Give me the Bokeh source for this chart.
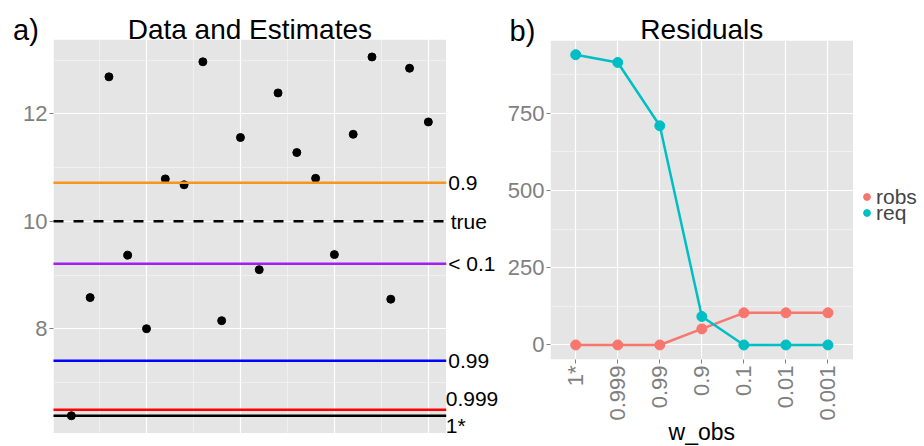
import math
from bokeh.plotting import figure
from bokeh.models import (Range1d, FixedTicker, Label, Legend, LegendItem, BoxAnnotation)
from bokeh.layouts import row
from bokeh.embed import file_html
from bokeh.resources import INLINE

FONT = "Liberation Sans"

# ---- panel a) data ----
obs_index = list(range(1, 21))
obs_values = [6.38, 8.58, 12.69, 9.37, 8.00, 10.79, 10.68, 12.97, 8.15, 11.56,
              9.10, 12.39, 11.28, 10.80, 9.38, 11.62, 13.06, 8.55, 12.85, 11.85]
true_value = 10.0
true_label = "true"
est_labels = ["0.9", "< 0.1", "0.99", "0.999", "1*"]
est_values = [10.72, 9.21, 7.405, 6.49, 6.38]
est_colors = ["#F5961E", "#A020F0", "#0000FF", "#FF0000", "#000000"]
a_xticks = [5, 10, 15, 20]
a_xminor = [2.5, 7.5, 12.5, 17.5]
a_yticks = [8, 10, 12]
a_yminor = [7, 9, 11, 13]

# ---- panel b) data ----
w_obs = ["1*", "0.999", "0.99", "0.9", "0.1", "0.01", "0.001"]
robs = [0, 0, 0, 52, 104, 104, 104]
req = [939, 914, 709, 92, 0, 0, 0]
series_names = ["robs", "req"]
series_colors = ["#F8766D", "#00BFC4"]
b_yticks = [0, 250, 500, 750]
b_yminor = [125, 375, 625, 875]

PANEL_BG = "#E5E5E5"
MINOR = "#F2F2F2"
TICK_COL = "#7F7F7F"
H = 446
W1 = 500          # left canvas (page x 0..500)
W2 = 924 - W1     # right canvas (page x 500..924)


class Mapper:
    """Maps a data window (the grey panel) onto a pixel box of a canvas."""
    def __init__(self, W, H, box, xlim, ylim):
        px0, py0, px1, py1 = box
        self.sx = (xlim[1] - xlim[0]) / (px1 - px0)
        self.sy = (ylim[1] - ylim[0]) / (py1 - py0)
        self.x_start = xlim[0] - px0 * self.sx
        self.x_end = xlim[0] + (W - px0) * self.sx
        self.y_end = ylim[1] + py0 * self.sy
        self.y_start = ylim[1] - (H - py0) * self.sy
        self.xlim, self.ylim = xlim, ylim

    def x(self, px):
        return self.x_start + px * self.sx

    def y(self, py):
        return self.y_end - py * self.sy


def make_fig(W, m):
    p = figure(width=W, height=H, x_range=Range1d(m.x_start, m.x_end),
               y_range=Range1d(m.y_start, m.y_end), output_backend="svg",
               toolbar_location=None, min_border=0, min_border_left=0,
               min_border_right=0, min_border_top=0, min_border_bottom=0)
    p.title.visible = False
    p.background_fill_color = "white"
    p.border_fill_color = "white"
    p.outline_line_color = None
    p.add_layout(BoxAnnotation(left=m.xlim[0], right=m.xlim[1], bottom=m.ylim[0], top=m.ylim[1],
                               fill_color=PANEL_BG, fill_alpha=1, line_color=None, level="image"))
    return p


def finish_grid(p, m):
    for g in (p.xgrid, p.ygrid):
        g.grid_line_color = "white"
        g.grid_line_width = 1.2
        g.minor_grid_line_color = MINOR
        g.minor_grid_line_width = 0.8
    for kw in (dict(top=m.ylim[0]), dict(bottom=m.ylim[1]), dict(right=m.xlim[0]), dict(left=m.xlim[1])):
        p.add_layout(BoxAnnotation(fill_color="white", fill_alpha=1, line_color=None,
                                   level="underlay", **kw))


def style_axis(ax):
    ax.axis_line_color = None
    ax.major_tick_out = 4
    ax.major_tick_in = 0
    ax.minor_tick_out = 0
    ax.minor_tick_in = 0
    ax.major_tick_line_color = TICK_COL
    ax.major_tick_line_width = 1
    ax.major_label_text_color = TICK_COL
    ax.major_label_text_font = FONT
    ax.major_label_text_font_size = "22px"
    ax.major_label_standoff = 2


def text(p, x, y, s, size, align="left", color="black"):
    p.add_layout(Label(x=x, y=y, text=s, text_align=align, text_baseline="middle",
                       text_font=FONT, text_font_size=size, text_color=color))


# ================= panel a =================
ma = Mapper(W1, H, (53, 39, 445.7, 432.7), (0.05, 20.95), (6.055, 13.385))
p1 = make_fig(W1, ma)
p1.xaxis.visible = False
p1.xgrid.ticker = FixedTicker(ticks=a_xticks, minor_ticks=a_xminor)
p1.yaxis.ticker = FixedTicker(ticks=a_yticks, minor_ticks=a_yminor)
p1.ygrid.ticker = FixedTicker(ticks=a_yticks, minor_ticks=a_yminor)
p1.yaxis.fixed_location = ma.xlim[0]
style_axis(p1.yaxis[0])
finish_grid(p1, ma)

p1.scatter(obs_index, obs_values, size=8, color="black")
n = len(est_values)
p1.segment(x0=[ma.xlim[0]] * n, x1=[ma.xlim[1]] * n, y0=est_values, y1=est_values,
           line_color=est_colors, line_width=2.5)
p1.segment(x0=[ma.xlim[0]], x1=[ma.xlim[1]], y0=[true_value], y1=[true_value],
           line_color="black", line_width=2.5, line_dash="10 10")

label_specs = list(zip(est_labels, est_values)) + [(true_label, true_value)]
for s, yv in label_specs:
    dy_px, xoff = 0, 2
    if s == "0.999":
        dy_px, xoff = 11, -0.5
    elif s == "1*":
        dy_px, xoff = -10, -0.5
    elif s == "true":
        xoff = 4.5
    text(p1, ma.xlim[1] + xoff * ma.sx, yv + dy_px * ma.sy, s, "21px")

text(p1, sum(ma.xlim) / 2, ma.y(28.5), "Data and Estimates", "28px", align="center")
text(p1, ma.x(12.5), ma.y(29), "a)", "29px")

# ================= panel b =================
OX = W1  # page x of the right canvas
mb = Mapper(W2, H, (550 - OX, 40, 852.7 - OX, 359), (-0.6, len(w_obs) - 1 + 0.6), (-47, 985))
p2 = make_fig(W2, mb)
xi = list(range(len(w_obs)))
p2.xaxis.ticker = FixedTicker(ticks=xi)
p2.xgrid.ticker = FixedTicker(ticks=xi)
p2.xaxis.major_label_overrides = {i: s for i, s in enumerate(w_obs)}
p2.xaxis.major_label_orientation = math.pi / 2
p2.xaxis.fixed_location = mb.ylim[0]
p2.yaxis.ticker = FixedTicker(ticks=b_yticks, minor_ticks=b_yminor)
p2.ygrid.ticker = FixedTicker(ticks=b_yticks, minor_ticks=b_yminor)
p2.yaxis.fixed_location = mb.xlim[0]
style_axis(p2.xaxis[0])
style_axis(p2.yaxis[0])
finish_grid(p2, mb)

key_r = p2.rect(x=[], y=[], width=1, height=1, fill_color=MINOR, line_color=None)
dot_py = [198.5, 214.5]
for name, vals, col, py in zip(series_names, [robs, req], series_colors, dot_py):
    p2.line(xi, vals, line_color=col, line_width=2.5)
    s = p2.scatter(xi, vals, size=10, color=col)
    leg = Legend(items=[LegendItem(label=name, renderers=[key_r, s])],
                 location=(866.5 - OX - 8.5, H - (py + 10)),
                 glyph_width=17, glyph_height=17, label_height=17, label_standoff=1,
                 spacing=0, padding=0, margin=0,
                 label_text_font=FONT, label_text_font_size="21px",
                 background_fill_alpha=0, border_line_color=None)
    p2.add_layout(leg, "center")

text(p2, sum(mb.xlim) / 2, mb.y(28.8), "Residuals", "28px", align="center")
text(p2, mb.x(509 - OX), mb.y(30), "b)", "29px")
text(p2, sum(mb.xlim) / 2, mb.y(431.5), "w_obs", "23px", align="center")

layout = row(p1, p2)
open("out.html", "w").write(file_html(layout, INLINE))
